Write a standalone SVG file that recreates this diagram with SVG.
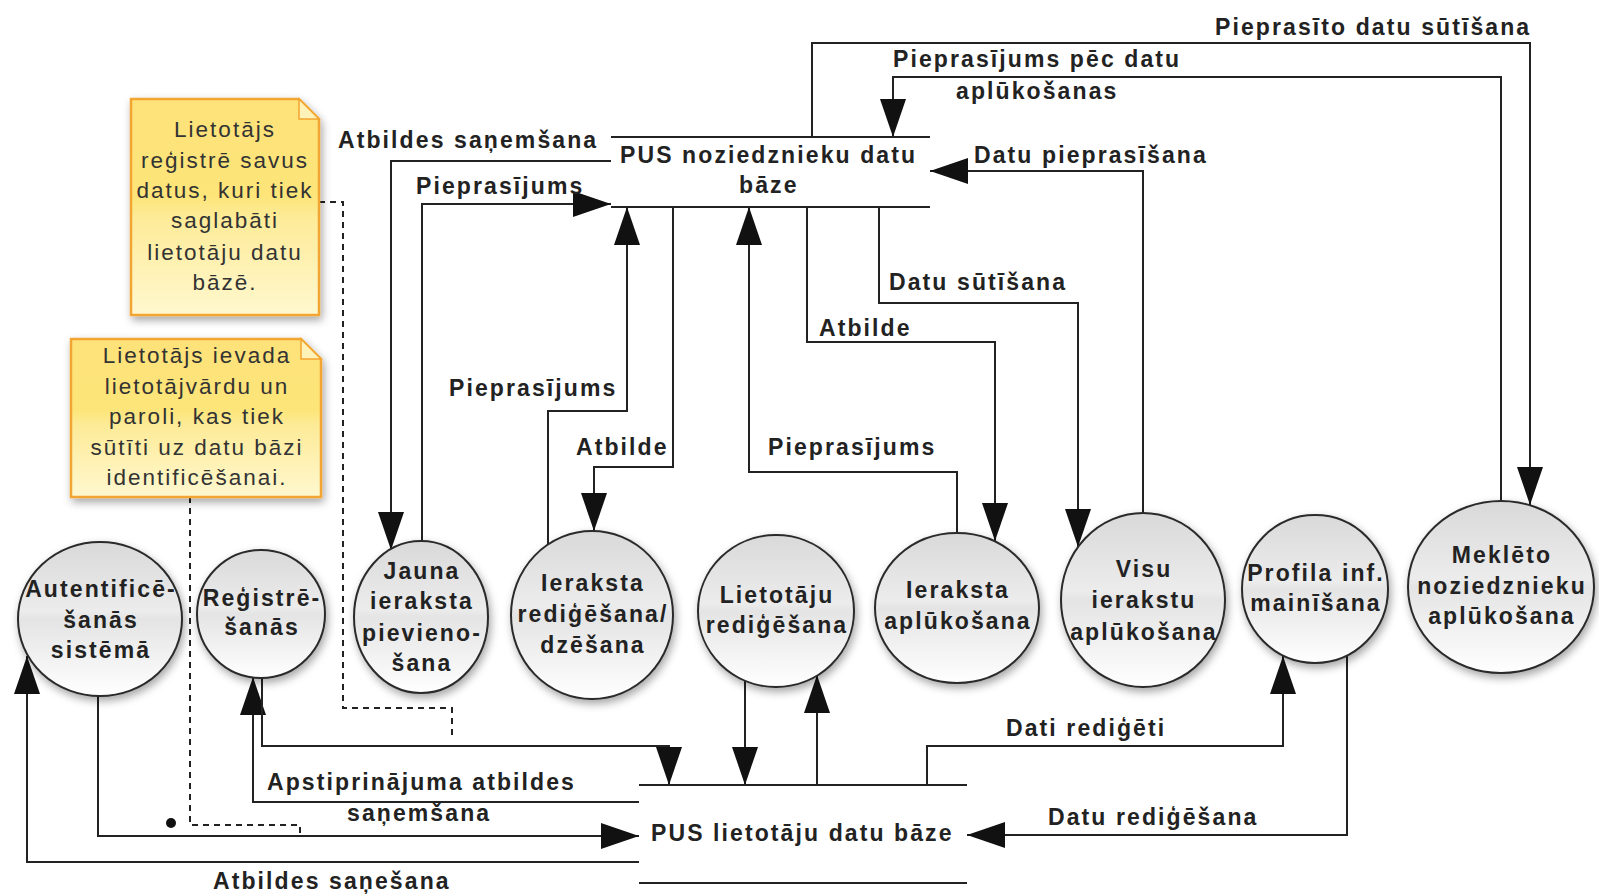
<svg xmlns="http://www.w3.org/2000/svg" width="1599" height="896" viewBox="0 0 1599 896">
<defs>
<linearGradient id="gCircle" x1="0" y1="0" x2="0" y2="1">
<stop offset="0" stop-color="#d9d9d9"/>
<stop offset="0.45" stop-color="#ececec"/>
<stop offset="0.5" stop-color="#e4e4e4"/>
<stop offset="1" stop-color="#ffffff"/>
</linearGradient>
<linearGradient id="gNote" x1="0" y1="0" x2="0" y2="1">
<stop offset="0" stop-color="#fde27a"/>
<stop offset="0.45" stop-color="#fde579"/>
<stop offset="0.55" stop-color="#fdeb98"/>
<stop offset="1" stop-color="#fff8cf"/>
</linearGradient>
<filter id="shadow" x="-20%" y="-20%" width="140%" height="140%">
<feDropShadow dx="2" dy="4" stdDeviation="4" flood-color="#000" flood-opacity="0.35"/>
</filter>
<marker id="arr" viewBox="0 0 38 26" refX="38" refY="13" markerWidth="38" markerHeight="26" markerUnits="userSpaceOnUse" orient="auto">
<path d="M0,0 L38,13 L0,26 Z" fill="#111"/>
</marker>
<style>
.ln{fill:none;stroke:#222;stroke-width:2}
.dash{fill:none;stroke:#222;stroke-width:2;stroke-dasharray:6,5}
.arw{fill:none;stroke:#222;stroke-width:2;marker-end:url(#arr)}
.lbl{font-family:"Liberation Sans",Arial,sans-serif;font-size:23px;font-weight:bold;letter-spacing:2.1px;fill:#222}
.ctx{font-family:"Liberation Sans",Arial,sans-serif;font-size:23px;font-weight:bold;letter-spacing:2.1px;fill:#222;text-anchor:middle}
.ntx{font-family:"Liberation Sans",Arial,sans-serif;font-size:22.5px;letter-spacing:2px;fill:#333;text-anchor:middle}
.proc{fill:url(#gCircle);stroke:#2a2a2a;stroke-width:2;filter:url(#shadow)}
.note{fill:url(#gNote);stroke:#f2a530;stroke-width:2.5;filter:url(#shadow)}
.fold{fill:#fff2b8;stroke:#f2a530;stroke-width:1.5}
</style>
</defs>
<rect width="1599" height="896" fill="#ffffff"/>

<g id="connectors">
<path class="arw" d="M812,137 V43 H1530 V505"/>
<path class="arw" d="M1501,501 V77 H893 V137"/>
<path class="arw" d="M1143,513 V171 H930"/>
<path class="arw" d="M611,161 H391 V550"/>
<path class="arw" d="M422,541 V204 H611"/>
<path class="arw" d="M548,544 V411 H627 V207"/>
<path class="arw" d="M673,207 V467 H594 V531"/>
<path class="arw" d="M957,533 V472 H749 V207"/>
<path class="arw" d="M807,207 V342 H995 V541"/>
<path class="arw" d="M879,207 V303 H1078 V547"/>
<path class="arw" d="M98,696 V836 H639"/>
<path class="arw" d="M639,862 H27 V656"/>
<path class="arw" d="M639,802 H253 V677"/>
<path class="arw" d="M262,677 V746 H669 V785"/>
<path class="arw" d="M745,681 V785"/>
<path class="arw" d="M817,785 V675"/>
<path class="arw" d="M927,785 V746 H1283 V656"/>
<path class="arw" d="M1347,655 V835 H967"/>
<path class="dash" d="M319,202 H343 V708 H452 V740"/>
<path class="dash" d="M190,497 V825 H300 V833"/>
<circle cx="171" cy="823" r="5" fill="#111"/>
<text class="lbl" x="1215" y="35">Pieprasīto datu sūtīšana</text>
<text class="lbl" x="893" y="67">Pieprasījums pēc datu</text>
<text class="lbl" x="956" y="99">aplūkošanas</text>
<text class="lbl" x="338" y="148">Atbildes saņemšana</text>
<text class="lbl" x="974" y="163">Datu pieprasīšana</text>
<text class="lbl" x="416" y="194">Pieprasījums</text>
<text class="lbl" x="889" y="290">Datu sūtīšana</text>
<text class="lbl" x="819" y="336">Atbilde</text>
<text class="lbl" x="449" y="396">Pieprasījums</text>
<text class="lbl" x="576" y="455">Atbilde</text>
<text class="lbl" x="768" y="455">Pieprasījums</text>
<text class="lbl" x="1006" y="736">Dati rediģēti</text>
<text class="lbl" x="267" y="790">Apstiprinājuma atbildes</text>
<text class="lbl" x="347" y="821">saņemšana</text>
<text class="lbl" x="1048" y="825">Datu rediģēšana</text>
<text class="lbl" x="213" y="889">Atbildes saņešana</text>
</g>

<g id="db-noziedznieki">
<line class="ln" x1="611" y1="137" x2="930" y2="137"/>
<line class="ln" x1="611" y1="207" x2="930" y2="207"/>
<text class="lbl" x="620" y="163">PUS noziedznieku datu</text>
<text class="lbl" x="739" y="193">bāze</text>
</g>

<g id="db-lietotaji">
<line class="ln" x1="639" y1="785" x2="967" y2="785"/>
<line class="ln" x1="639" y1="883" x2="967" y2="883"/>
<text class="lbl" x="651" y="841">PUS lietotāju datu bāze</text>
</g>

<g id="p-autentif">
<ellipse class="proc" cx="100" cy="619" rx="82" ry="77"/>
<text class="ctx" x="101" y="597">Autentificē-</text>
<text class="ctx" x="101" y="628">šanās</text>
<text class="ctx" x="101" y="658">sistēmā</text>
</g>
<g id="p-registr">
<ellipse class="proc" cx="261" cy="614" rx="64" ry="64"/>
<text class="ctx" x="262" y="606">Reģistrē-</text>
<text class="ctx" x="262" y="635">šanās</text>
</g>
<g id="p-jauna">
<ellipse class="proc" cx="421" cy="617" rx="67" ry="76"/>
<text class="ctx" x="422" y="579">Jauna</text>
<text class="ctx" x="422" y="609">ieraksta</text>
<text class="ctx" x="422" y="641">pievieno-</text>
<text class="ctx" x="422" y="671">šana</text>
</g>
<g id="p-red-dzes">
<ellipse class="proc" cx="592" cy="615" rx="81" ry="84"/>
<text class="ctx" x="593" y="591">Ieraksta</text>
<text class="ctx" x="593" y="622">rediģēšana/</text>
<text class="ctx" x="593" y="653">dzēšana</text>
</g>
<g id="p-lietot-red">
<ellipse class="proc" cx="776" cy="611" rx="78" ry="76"/>
<text class="ctx" x="777" y="603">Lietotāju</text>
<text class="ctx" x="777" y="633">rediģēšana</text>
</g>
<g id="p-ier-aplu">
<ellipse class="proc" cx="957" cy="608" rx="82" ry="75"/>
<text class="ctx" x="958" y="598">Ieraksta</text>
<text class="ctx" x="958" y="629">aplūkošana</text>
</g>
<g id="p-visu">
<ellipse class="proc" cx="1143" cy="600" rx="82" ry="87"/>
<text class="ctx" x="1144" y="577">Visu</text>
<text class="ctx" x="1144" y="608">ierakstu</text>
<text class="ctx" x="1144" y="640">aplūkošana</text>
</g>
<g id="p-profila">
<ellipse class="proc" cx="1315" cy="589" rx="73" ry="74"/>
<text class="ctx" x="1316" y="581">Profila inf.</text>
<text class="ctx" x="1316" y="611">mainīšana</text>
</g>
<g id="p-meklet">
<ellipse class="proc" cx="1501" cy="587" rx="93" ry="86"/>
<text class="ctx" x="1502" y="563">Meklēto</text>
<text class="ctx" x="1502" y="594">noziedznieku</text>
<text class="ctx" x="1502" y="624">aplūkošana</text>
</g>

<g id="note-registr">
<path class="note" d="M131,99 H299 L319,119 V315 H131 Z"/>
<path class="fold" d="M299,99 V119 H319 Z"/>
<text class="ntx" x="225" y="137">Lietotājs</text>
<text class="ntx" x="225" y="168">reģistrē savus</text>
<text class="ntx" x="225" y="198">datus, kuri tiek</text>
<text class="ntx" x="225" y="228">saglabāti</text>
<text class="ntx" x="225" y="260">lietotāju datu</text>
<text class="ntx" x="225" y="290">bāzē.</text>
</g>
<g id="note-autentif">
<path class="note" d="M71,339 H301 L321,359 V497 H71 Z"/>
<path class="fold" d="M301,339 V359 H321 Z"/>
<text class="ntx" x="197" y="363">Lietotājs ievada</text>
<text class="ntx" x="197" y="394">lietotājvārdu un</text>
<text class="ntx" x="197" y="424">paroli, kas tiek</text>
<text class="ntx" x="197" y="455">sūtīti uz datu bāzi</text>
<text class="ntx" x="197" y="485">identificēšanai.</text>
</g>
</svg>
